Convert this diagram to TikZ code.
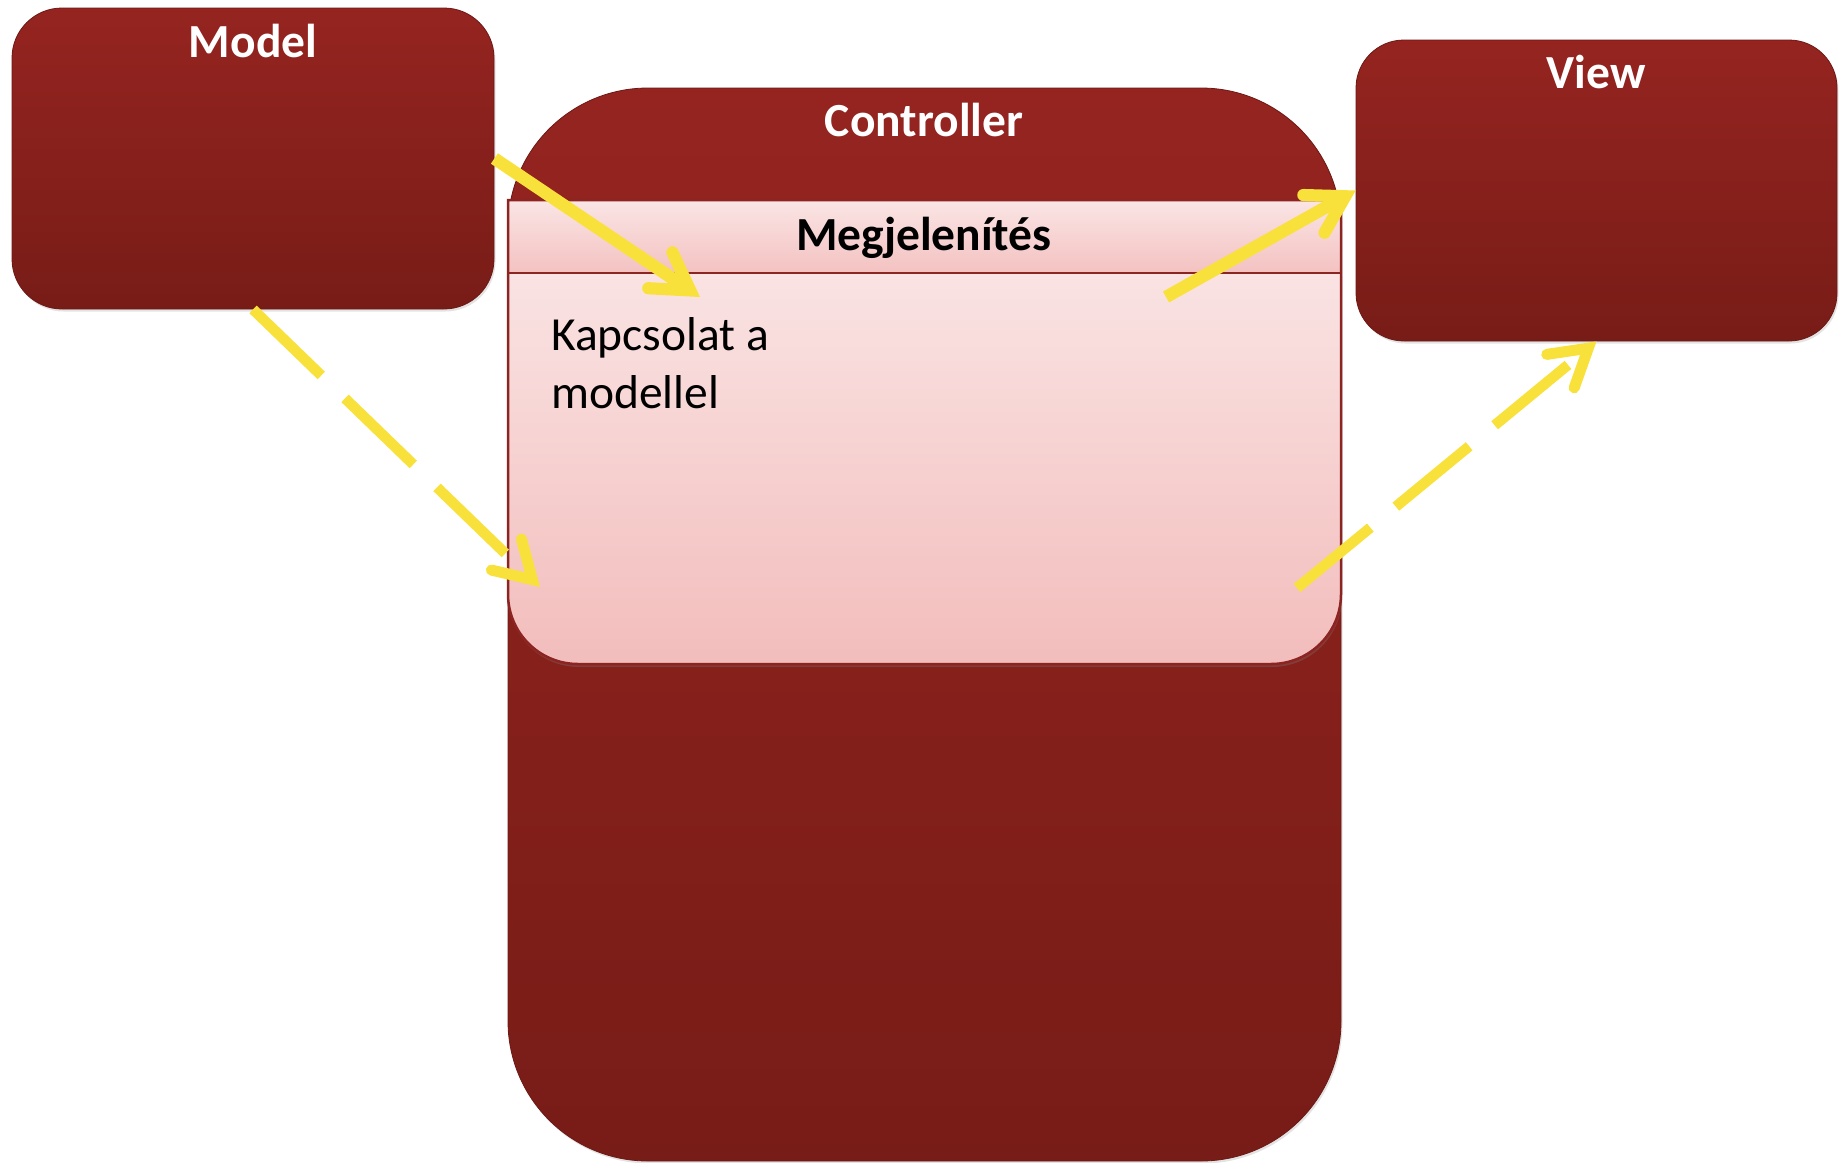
\documentclass[tikz,border=0pt]{standalone}
\usepackage{fontspec}
\setmainfont{Carlito}
\usetikzlibrary{calc,shadows}

\definecolor{boxtop}{RGB}{149,36,32}
\definecolor{boxbot}{RGB}{120,28,23}
\definecolor{headtop}{RGB}{251,229,229}
\definecolor{headbot}{RGB}{243,194,193}
\definecolor{bodytop}{RGB}{250,227,227}
\definecolor{bodybot}{RGB}{242,189,188}
\definecolor{edgered}{RGB}{140,36,33}
\definecolor{flow}{RGB}{249,225,59}

\tikzset{
  box/.style={rectangle, inner sep=0pt, top color=boxtop, bottom color=boxbot,
    draw=boxbot!90!black, line width=0.8pt,
    drop shadow={shadow xshift=1.5pt, shadow yshift=-2.5pt, opacity=0.22}},
  frame/.style={rectangle, inner sep=0pt},
  boxtitle/.style={text=white, font=\fontsize{47.5}{57}\selectfont\bfseries,
    anchor=base, inner sep=0pt},
  paneltitle/.style={text=black, font=\fontsize{47.5}{57}\selectfont\bfseries,
    anchor=base, inner sep=0pt},
  paneltext/.style={text=black, font=\fontsize{47.5}{58}\selectfont,
    align=left, anchor=base west, inner sep=0pt},
  solidshaft/.style={draw=flow, line width=12.5pt, line cap=butt},
  dashshaft/.style={draw=flow, line width=10.5pt, line cap=butt,
    dash pattern=on 95pt off 33pt},
  barbline/.style={draw=flow, line cap=round, line join=miter},
}

% Open barb: #1 = visible tip, #2 = point the shaft comes from,
% #3 = barb line width, #4 = how far the stroke's miter sticks out beyond the corner
\newcommand\flowbarb[4]{%
  \coordinate (barbcorner) at ($(#1)!#4!(#2)$);
  \draw[barbline, line width=#3]
    ($(barbcorner)!42pt!31:(#2)$) -- (barbcorner) -- ($(barbcorner)!42pt!-31:(#2)$);
}

\begin{document}
\begin{tikzpicture}[x=1pt, y=-1pt]
  \useasboundingbox (0,0) rectangle (1843,1162);

  % Controller: the large rounded container
  \node[box, rounded corners=140pt, minimum width=833pt, minimum height=1073pt]
    (controller) at (924.5,624.5) {};
  \node[boxtitle] (controllertitle) at (924,136.7) {Controller};

  % Panel inside the controller: header band and body with rounded bottom
  \node[frame, minimum width=833pt, minimum height=464pt] (panel) at (924.5,432) {};
  \node[frame, minimum width=833pt, minimum height=73pt] (header) at (924.5,236.5) {};
  \shade[top color=bodytop, bottom color=bodybot,
    drop shadow={shadow xshift=1pt, shadow yshift=-3pt, opacity=0.3}]
    (508,273) -- (1341,273) -- (1341,594) arc (0:90:70) -- (578,664)
    arc (90:180:70) -- cycle;
  \shade[top color=headtop, bottom color=headbot]
    (508,200) rectangle (1341,273);
  \draw[edgered, line width=2.5pt]
    (508,200) -- (1341,200) -- (1341,594) arc (0:90:70) -- (578,664)
    arc (90:180:70) -- cycle;
  \draw[edgered, line width=2.5pt] (header.south west) -- (header.south east);
  \node[paneltitle] (headertitle) at (924,250) {Megjelenítés};
  \node[paneltext] (link) at (551,408) {Kapcsolat a\\modellel};

  % Model and View
  \node[box, rounded corners=50pt, minimum width=482pt, minimum height=301pt]
    (model) at (253,158.5) {};
  \node[boxtitle] (modeltitle) at (253,57.5) {Model};

  \node[box, rounded corners=48pt, minimum width=481pt, minimum height=301pt]
    (view) at (1596.5,190.5) {};
  \node[boxtitle] (viewtitle) at (1596,88.3) {View};

  % Flow arrows
  \coordinate (modelin) at (700,297);
  \coordinate (viewout) at (1166,297);
  \coordinate (modelref) at (540,587);
  \coordinate (viewref) at (1297,588);

  \draw[solidshaft] (model.east) -- ($(modelin)!11.8pt!(model.east)$);
  \flowbarb{modelin}{model.east}{12.2pt}{11.8pt}

  \draw[solidshaft] (viewout) -- ($(view.west)!11.8pt!(viewout)$);
  \flowbarb{view.west}{viewout}{12.2pt}{11.8pt}

  \draw[dashshaft] (model.south) -- ($(modelref)!10.7pt!(model.south)$);
  \flowbarb{modelref}{model.south}{11pt}{10.7pt}

  \draw[dashshaft] (viewref) -- ($(view.south)!10.7pt!(viewref)$);
  \flowbarb{view.south}{viewref}{11pt}{10.7pt}
\end{tikzpicture}
\end{document}
